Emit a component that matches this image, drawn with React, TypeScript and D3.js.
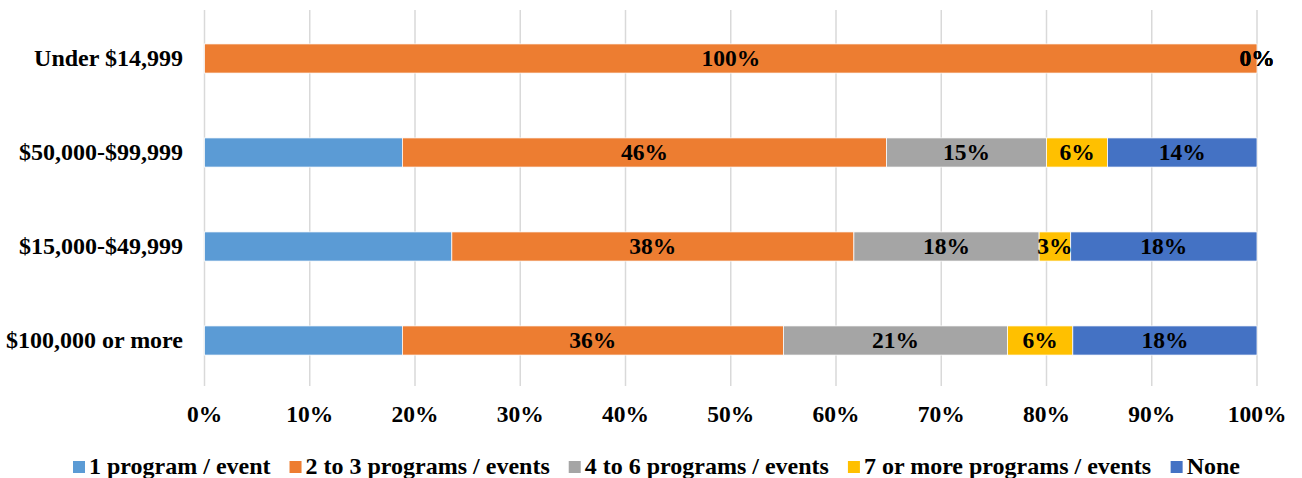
import React, { useMemo } from "react";
import * as d3 from "d3";

const categories = ["Under $14,999", "$50,000-$99,999", "$15,000-$49,999", "$100,000 or more"];
const seriesNames = [
  "1 program / event",
  "2 to 3 programs / events",
  "4 to 6 programs / events",
  "7 or more programs / events",
  "None",
];
const seriesColors = ["#5B9BD5", "#ED7D31", "#A5A5A5", "#FFC000", "#4472C4"];
const oneProgram = [0, 18.8, 23.5, 18.8];
const twoToThree = [100, 46.0, 38.2, 36.2];
const fourToSix = [0, 15.2, 17.6, 21.3];
const sevenOrMore = [0, 5.8, 3.0, 6.2];
const none = [0, 14.2, 17.7, 17.5];
const xTicks = [0, 10, 20, 30, 40, 50, 60, 70, 80, 90, 100];

const W = 1302;
const H = 478;
const FONT = "'Liberation Serif', 'Times New Roman', serif";
const FS_CAT = 24;
const FS_TICK = 23.5;
const FS_LABEL = 23.5;
const FS_LEG = 24;

function measure(text: string, size: number) {
  const c = document.createElement("canvas").getContext("2d")!;
  c.font = `bold ${size}px ${FONT}`;
  return c.measureText(text).width;
}

export default function App() {
  const seriesValues = [oneProgram, twoToThree, fourToSix, sevenOrMore, none];
  const rows = categories.map((c, i) => {
    const r: any = { cat: c };
    seriesNames.forEach((s, j) => (r[s] = seriesValues[j][i]));
    return r;
  });
  const stacked = d3.stack().keys(seriesNames)(rows);

  const x = d3.scaleLinear().domain([0, 100]).range([204.5, 1257]);
  const y = d3.scaleBand().domain(categories).range([11.5, 387.5]).paddingInner(0.69).paddingOuter(0.345);

  const legend = useMemo(() => {
    let cx = 73;
    return seriesNames.map((s, i) => {
      const item = { name: s, color: seriesColors[i], x: cx };
      cx += 12 + 4 + measure(s, FS_LEG) + 19;
      return item;
    });
  }, []);

  return (
    <svg
      width={W}
      height={H}
      style={{ position: "absolute", left: 0, top: 0, background: "#fff" }}
      fontFamily={FONT}
      fontWeight="bold"
    >
      <rect width={W} height={H} fill="#fff" />
      {xTicks.map((t) => (
        <line key={t} x1={x(t)} x2={x(t)} y1={10} y2={386} stroke="#D9D9D9" strokeWidth={1.5} />
      ))}
      {stacked.map((s, j) =>
        s.map((d, i) => (
          <rect
            key={`${j}-${i}`}
            x={x(d[0])}
            y={y(categories[i])!}
            width={Math.max(0, x(d[1]) - x(d[0]))}
            height={y.bandwidth()}
            fill={seriesColors[j]}
            stroke="#fff"
            strokeWidth={0.75}
          />
        ))
      )}
      {stacked.map((s, j) =>
        j === 0
          ? null
          : s.map((d, i) => (
              <text
                key={`l${j}-${i}`}
                x={(x(d[0]) + x(d[1])) / 2}
                y={y(categories[i])! + y.bandwidth() / 2}
                dy="0.33em"
                textAnchor="middle"
                fontSize={FS_LABEL}
                fill="#000"
              >
                {Math.round(d[1] - d[0])}%
              </text>
            ))
      )}
      {categories.map((c) => (
        <text
          key={c}
          x={183}
          y={y(c)! + y.bandwidth() / 2}
          dy="0.3em"
          textAnchor="end"
          fontSize={FS_CAT}
          fill="#000"
        >
          {c}
        </text>
      ))}
      {xTicks.map((t) => (
        <text key={`t${t}`} x={x(t)} y={422} textAnchor="middle" fontSize={FS_TICK} fill="#000">
          {t}%
        </text>
      ))}
      {legend.map((l) => (
        <g key={l.name} transform={`translate(${l.x},0)`}>
          <rect x={0} y={461} width={12} height={12} fill={l.color} />
          <text x={16} y={474} fontSize={FS_LEG} fill="#000">
            {l.name}
          </text>
        </g>
      ))}
    </svg>
  );
}
